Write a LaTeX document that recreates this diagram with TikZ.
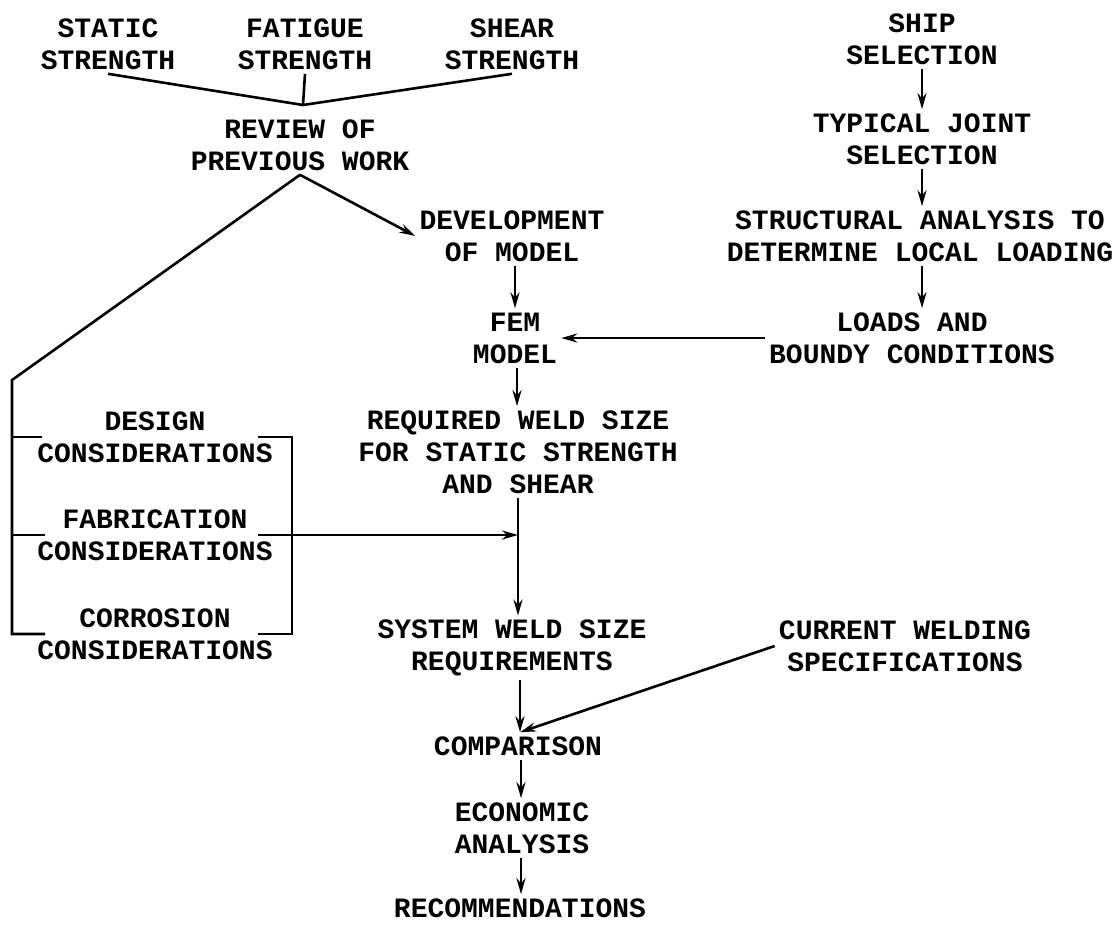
\documentclass[tikz,border=0pt]{standalone}
\usepackage{fontspec}
\setmainfont{Liberation Mono}
\usetikzlibrary{arrows.meta}

\tikzset{
  blk/.style={align=center, font=\bfseries\fontsize{28}{32}\selectfont, inner sep=3pt},
  flow/.style={-{Stealth[length=16pt,width=9pt]}},
}

\begin{document}
\begin{tikzpicture}[x=1pt,y=-1pt,line width=2.6pt]
  \useasboundingbox (0,0) rectangle (1116,927);
  % top of the left column
  \node [blk] (static) at (108,44) {STATIC\\STRENGTH};
  \node [blk] (fatigue) at (305,44) {FATIGUE\\STRENGTH};
  \node [blk] (shear) at (512,44) {SHEAR\\STRENGTH};
  \node [blk] (review) at (300,145) {REVIEW OF\\PREVIOUS WORK};
  \node [blk] (develop) at (512,236) {DEVELOPMENT\\OF MODEL};
  \node [blk] (fem) at (515,338) {FEM\\MODEL};
  \node [blk] (required) at (518,452) {REQUIRED WELD SIZE\\FOR STATIC STRENGTH\\AND SHEAR};
  % right column
  \node [blk] (ship) at (922,39) {SHIP\\SELECTION};
  \node [blk] (typical) at (922,139) {TYPICAL JOINT\\SELECTION};
  \node [blk] (struct) at (920,236) {STRUCTURAL ANALYSIS TO\\DETERMINE LOCAL LOADING};
  \node [blk] (loads) at (912,338) {LOADS AND\\BOUNDY CONDITIONS};
  \node [blk] (current) at (905,646) {CURRENT WELDING\\SPECIFICATIONS};
  % considerations
  \node [blk] (design) at (155,437) {DESIGN\\CONSIDERATIONS};
  \node [blk] (fab) at (155,535) {FABRICATION\\CONSIDERATIONS};
  \node [blk] (corr) at (155,634) {CORROSION\\CONSIDERATIONS};
  % bottom
  \node [blk] (system) at (512,648) {SYSTEM WELD SIZE\\REQUIREMENTS};
  \node [blk] (compare) at (518,746) {COMPARISON};
  \node [blk] (econ) at (522,828) {ECONOMIC\\ANALYSIS};
  \node [blk] (recom) at (520,908) {RECOMMENDATIONS};

  \coordinate (join) at (303,105);
  \coordinate (brtop) at (12,380);
  \coordinate (brbot) at (12,634);
  \coordinate (fabout) at (258,535);
  \coordinate (spine) at (518,0);

  \draw (static.south) -- (join) -- (shear.south);
  \draw (fatigue.south) -- (join);
  \draw [flow] (review.south) -- (develop.west);
  \draw (review.south) -- (brtop) -- (brbot) -- ++(33,0);
  \draw (brtop |- design) -- ++(30,0);
  \draw (brtop |- fab) -- ++(33,0);
  \draw (258,437) -- (292,437) -- (292,634) -- (258,634);
  \draw [flow] (fabout) -- (fabout -| spine);

  \draw [flow] (develop.south -| 515,0) -- (fem.north -| 515,0);
  \draw [flow] (fem.south -| 517,0) -- (required.north -| 517,0);
  \draw [flow] (required.south -| spine) -- (system.north -| spine);
  \draw [flow] (system.south -| 520,0) -- (compare.north -| 520,0);
  \draw [flow] (compare.south -| 521,0) -- (econ.north -| 521,0);
  \draw [flow] (econ.south -| 521,0) -- (recom.north -| 521,0);
  \draw [flow] (ship) -- (typical);
  \draw [flow] (typical) -- (struct.north -| typical);
  \draw [flow] (struct.south -| typical) -- (loads.north -| typical);
  \draw [flow] (loads.west) -- (fem.east);
  \draw [flow] (current.west) -- (compare.north -| 520,0);
\end{tikzpicture}
\end{document}
